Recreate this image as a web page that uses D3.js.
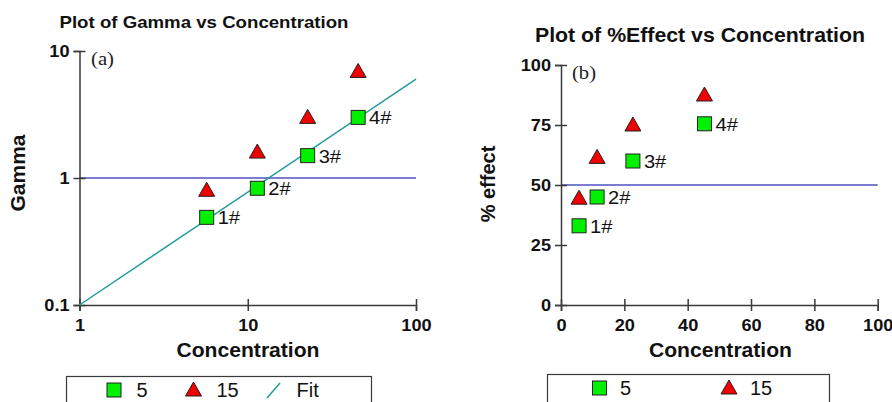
<!DOCTYPE html>
<html><head><meta charset="utf-8">
<script src="https://cdn.jsdelivr.net/npm/d3@7"></script>
<style>
body{margin:0;background:#fff;}
svg{display:block;font-family:"Liberation Sans",Arial,sans-serif;}
</style></head>
<body>
<svg id="c" width="892" height="402"></svg>
<script>
// ---- data ----
const concentration = [5.7, 11.4, 22.7, 45.3];
const pointLabels = ["1#", "2#", "3#", "4#"];
const gamma5 = [0.49, 0.83, 1.5, 3.0];
const gamma15 = [0.80, 1.6, 3.0, 6.9];
const effect5 = [33, 45, 60, 75.5];
const effect15 = [44.5, 61.5, 75, 87.5];
const fitConc = [1, 100];
const fitGamma = [0.1, 6.0];
const gammaRef = 1;
const effectRef = 50;
const xTicksLog = [1, 10, 100];
const yTicksLog = [0.1, 1, 10];
const xTicksLin = [0, 20, 40, 60, 80, 100];
const yTicksLin = [0, 25, 50, 75, 100];

const svg = d3.select("#c");
const axisColor = "#3a3a3a";
const green = "#00f000", red = "#f00000", teal = "#229a9a", blue = "#5050c0";

function stretch(sel, f) {
  sel.each(function () {
    const L = this.getComputedTextLength();
    d3.select(this).attr("textLength", L * f).attr("lengthAdjust", "spacingAndGlyphs");
  });
}
function square(g, x, y) {
  g.append("rect").attr("x", x - 7).attr("y", y - 7).attr("width", 14).attr("height", 14)
    .attr("fill", green).attr("stroke", "#222").attr("stroke-width", 1);
}
function triangle(g, x, y) {
  g.append("path").attr("d", `M${x},${y-8}L${x+8},${y+6}L${x-8},${y+6}Z`)
    .attr("fill", red).attr("stroke", "#222").attr("stroke-width", 1);
}
function styleAxis(g, orient) {
  g.select(".domain").attr("stroke", axisColor).attr("stroke-width", 1.5);
  g.selectAll(".tick line").attr("stroke", axisColor).attr("stroke-width", 1.5);
  if (orient === "left") g.selectAll(".tick line").attr("x1", -6).attr("x2", 6);
  else g.selectAll(".tick line").attr("y1", -6).attr("y2", 6);
  const t = g.selectAll(".tick text").attr("font-size", 16.5).attr("font-weight", "bold")
    .attr("fill", "#111").attr("font-family", "Liberation Sans, Arial, sans-serif");
  stretch(t, 1.1);
}
function label(x, y, txt, size, opts = {}) {
  const t = svg.append("text").attr("x", x).attr("y", y).attr("font-size", size)
    .attr("fill", opts.fill || "#111").text(txt);
  if (opts.anchor) t.attr("text-anchor", opts.anchor);
  if (opts.bold) t.attr("font-weight", "bold");
  if (opts.family) t.attr("font-family", opts.family);
  if (opts.len) t.attr("textLength", opts.len).attr("lengthAdjust", "spacingAndGlyphs");
  return t;
}

// ---------- Panel (a) ----------
const xa = d3.scaleLog().domain([1, 100]).range([79.5, 416]);
const ya = d3.scaleLog().domain([0.1, 10]).range([305, 51]);

label(204, 28, "Plot of Gamma vs Concentration", 17, {anchor: "middle", bold: true, len: 289});

svg.append("line").attr("x1", xa(1)).attr("x2", xa(100)).attr("y1", ya(gammaRef)).attr("y2", ya(gammaRef))
  .attr("stroke", blue).attr("stroke-width", 1.3);

const gxa = svg.append("g").attr("transform", `translate(0,${ya(0.1)})`)
  .call(d3.axisBottom(xa).tickValues(xTicksLog).tickFormat(d3.format("d")).tickSize(6).tickPadding(8));
styleAxis(gxa, "bottom");
const gya = svg.append("g").attr("transform", `translate(${xa(1)},0)`)
  .call(d3.axisLeft(ya).tickValues(yTicksLog).tickFormat(d => d === 0.1 ? "0.1" : d3.format("d")(d)).tickSize(6).tickPadding(4));
styleAxis(gya, "left");

svg.append("path").datum(fitConc.map((c, i) => [c, fitGamma[i]]))
  .attr("d", d3.line().x(d => xa(d[0])).y(d => ya(d[1])))
  .attr("stroke", teal).attr("stroke-width", 1.5).attr("fill", "none");

const pa = svg.append("g");
concentration.forEach((c, i) => {
  triangle(pa, xa(c), ya(gamma15[i]));
  square(pa, xa(c), ya(gamma5[i]));
  stretch(pa.append("text").attr("x", xa(c) + 11).attr("y", ya(gamma5[i]) + 7)
    .attr("font-size", 19).attr("fill", "#111").text(pointLabels[i]), 1.06);
});
label(91, 65, "(a)", 18, {family: "Liberation Serif, Times New Roman, serif", fill: "#222", len: 23});

svg.append("text").attr("transform", `translate(25,173) rotate(-90)`).attr("text-anchor", "middle")
  .attr("font-size", 21).attr("font-weight", "bold").attr("fill", "#111").text("Gamma");
label(248, 357, "Concentration", 21, {anchor: "middle", bold: true, len: 143});

// legend (a)
svg.append("rect").attr("x", 66.5).attr("y", 376.5).attr("width", 305).attr("height", 40)
  .attr("fill", "none").attr("stroke", axisColor).attr("stroke-width", 1.2);
square(svg, 114, 390);
label(136.5, 396.5, "5", 20);
triangle(svg, 193.5, 390);
label(216.5, 396.5, "15", 20);
svg.append("line").attr("x1", 267).attr("y1", 398).attr("x2", 280).attr("y2", 383)
  .attr("stroke", teal).attr("stroke-width", 1.5);
label(296.5, 396.5, "Fit", 20);

// ---------- Panel (b) ----------
const xb = d3.scaleLinear().domain([0, 100]).range([561, 877.7]);
const yb = d3.scaleLinear().domain([0, 100]).range([305, 65]);

label(700, 42, "Plot of %Effect vs Concentration", 20, {anchor: "middle", bold: true, len: 330});

svg.append("line").attr("x1", xb(0)).attr("x2", xb(100)).attr("y1", yb(effectRef)).attr("y2", yb(effectRef))
  .attr("stroke", blue).attr("stroke-width", 1.3);

const gxb = svg.append("g").attr("transform", `translate(0,${yb(0)})`)
  .call(d3.axisBottom(xb).tickValues(xTicksLin).tickSize(6).tickPadding(8));
styleAxis(gxb, "bottom");
const gyb = svg.append("g").attr("transform", `translate(${xb(0)},0)`)
  .call(d3.axisLeft(yb).tickValues(yTicksLin).tickSize(6).tickPadding(4));
styleAxis(gyb, "left");

const pb = svg.append("g");
concentration.forEach((c, i) => {
  triangle(pb, xb(c), yb(effect15[i]));
  square(pb, xb(c), yb(effect5[i]));
  stretch(pb.append("text").attr("x", xb(c) + 11).attr("y", yb(effect5[i]) + 7)
    .attr("font-size", 19).attr("fill", "#111").text(pointLabels[i]), 1.06);
});
label(572, 79, "(b)", 18, {family: "Liberation Serif, Times New Roman, serif", fill: "#222", len: 24});

svg.append("text").attr("transform", `translate(495,184) rotate(-90)`).attr("text-anchor", "middle")
  .attr("font-size", 20).attr("font-weight", "bold").attr("fill", "#111").text("% effect");
label(720.5, 357, "Concentration", 21, {anchor: "middle", bold: true, len: 143});

// legend (b)
svg.append("rect").attr("x", 547.5).attr("y", 374.5).attr("width", 282).attr("height", 40)
  .attr("fill", "none").attr("stroke", axisColor).attr("stroke-width", 1.2);
square(svg, 599.5, 388);
label(620, 394.5, "5", 20);
triangle(svg, 729, 388);
label(750, 394.5, "15", 20);
</script>
</body></html>
